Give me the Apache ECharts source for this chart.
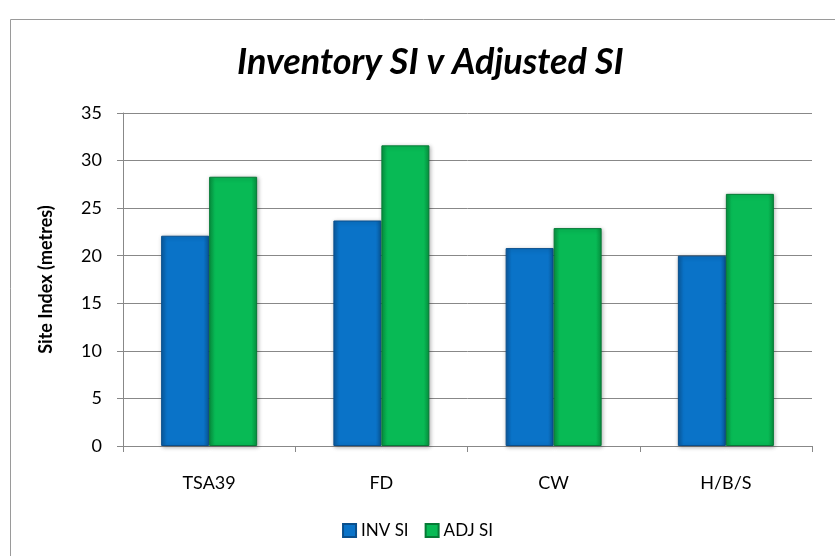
<!DOCTYPE html>
<html>
<head>
<meta charset="utf-8">
<script src="https://cdn.jsdelivr.net/npm/echarts@6/dist/echarts.min.js"></script>
<style>
  html, body { margin: 0; padding: 0; background: #fff; }
  #chart { width: 835px; height: 556px; }
</style>
</head>
<body>
<div id="chart"></div>
<script>
// Inventory vs adjusted site index by stratum
const categories = ['TSA39', 'FD', 'CW', 'H/B/S'];
const invSI = [22.1, 23.7, 20.8, 20.0];
const adjSI = [28.3, 31.6, 22.9, 26.5];
const yTicks = { min: 0, max: 35, interval: 5 };

const FONT = 'Lato, "Open Sans", sans-serif';

// bevelled bar look, darker at the edges
function barColor(base, dark) {
    return new echarts.graphic.LinearGradient(0, 0, 1, 0, [
        { offset: 0, color: dark },
        { offset: 0.12, color: base },
        { offset: 0.88, color: base },
        { offset: 1, color: dark }
    ]);
}

const chart = echarts.init(document.getElementById('chart'));

const option = {
    backgroundColor: '#ffffff',
    animation: false,
    title: {
        text: 'Inventory SI v Adjusted SI',
        left: 232,
        top: 39,
        textStyle: {
            fontFamily: FONT,
            fontSize: 36,
            fontWeight: 'bold',
            fontStyle: 'italic',
            color: '#000'
        }
    },
    graphic: [{
        // chart frame, only top and left edges fall inside the picture
        type: 'rect',
        shape: { x: 10.5, y: 19.5, width: 900, height: 600 },
        style: { fill: 'none', stroke: '#9a9a9a', lineWidth: 1 },
        silent: true
    }],
    legend: {
        bottom: 12,
        left: 'center',
        itemWidth: 13,
        itemHeight: 13,
        itemGap: 16,
        icon: 'rect',
        textStyle: { fontFamily: FONT, fontSize: 17, color: '#000' },
        data: ['INV SI', 'ADJ SI']
    },
    grid: {
        left: 123,
        right: 23,
        top: 113,
        bottom: 110
    },
    xAxis: {
        type: 'category',
        data: categories,
        axisLine: { lineStyle: { color: '#888', width: 1 } },
        axisTick: { show: true, length: 6, lineStyle: { color: '#888' } },
        axisLabel: { fontFamily: FONT, fontSize: 18, color: '#000', margin: 28 }
    },
    yAxis: {
        type: 'value',
        min: yTicks.min,
        max: yTicks.max,
        interval: yTicks.interval,
        name: 'Site Index (metres)',
        nameLocation: 'middle',
        nameGap: 68,
        nameTextStyle: { fontFamily: FONT, fontSize: 18, fontWeight: 'bold', color: '#000' },
        axisLine: { show: true, lineStyle: { color: '#888' } },
        axisTick: { show: true, length: 6, lineStyle: { color: '#888' } },
        axisLabel: { fontFamily: FONT, fontSize: 18, color: '#000', margin: 21 },
        splitLine: { lineStyle: { color: '#888', width: 1 } }
    },
    series: [
        {
            name: 'INV SI',
            type: 'bar',
            data: invSI,
            barWidth: 48,
            barGap: '0%',
            itemStyle: {
                color: barColor('#0A73C8', '#0a5ba0'),
                borderColor: '#0a4f8c',
                borderWidth: 1,
                shadowColor: 'rgba(0,0,0,0.3)',
                shadowBlur: 4,
                shadowOffsetX: 1,
                shadowOffsetY: 1
            }
        },
        {
            name: 'ADJ SI',
            type: 'bar',
            data: adjSI,
            barWidth: 48,
            itemStyle: {
                color: barColor('#08BA55', '#07923f'),
                borderColor: '#067a36',
                borderWidth: 1,
                shadowColor: 'rgba(0,0,0,0.3)',
                shadowBlur: 4,
                shadowOffsetX: 1,
                shadowOffsetY: 1
            }
        }
    ]
};

chart.setOption(option);
</script>
</body>
</html>
